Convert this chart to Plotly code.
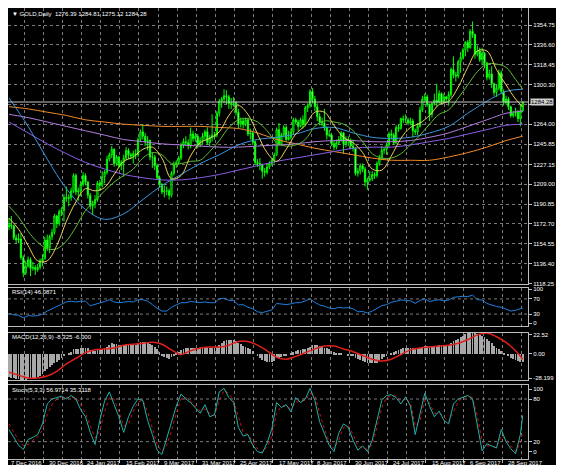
import plotly.graph_objects as go

# GOLD daily bars, 7 Dec 2016 .. 9 Oct 2017 (one entry per trading day)
opens = [1170, 1172, 1171, 1160, 1158, 1159, 1142, 1128, 1134, 1140, 1132, 1133, 1131, 1133, 1139, 1141, 1158,
         1151, 1161, 1165, 1180, 1173, 1184, 1185, 1197, 1196, 1197, 1203, 1217, 1202, 1203, 1209, 1217,
         1211, 1199, 1189, 1191, 1195, 1210, 1208, 1216, 1220, 1232, 1236, 1241, 1228, 1234, 1226, 1229,
         1233, 1240, 1236, 1235, 1237, 1236, 1250, 1257, 1253, 1248, 1249, 1234, 1234, 1226, 1215, 1209,
         1202, 1203, 1203, 1199, 1219, 1227, 1229, 1233, 1245, 1248, 1247, 1244, 1255, 1251, 1253, 1245,
         1249, 1253, 1257, 1247, 1252, 1254, 1254, 1274, 1285, 1287, 1290, 1289, 1283, 1283, 1284, 1275,
         1264, 1267, 1264, 1268, 1255, 1256, 1248, 1229, 1228, 1227, 1221, 1220, 1225, 1228, 1231, 1236,
         1259, 1246, 1254, 1261, 1250, 1252, 1257, 1268, 1266, 1262, 1268, 1264, 1279, 1281, 1294, 1287,
         1280, 1271, 1266, 1265, 1261, 1254, 1254, 1246, 1243, 1247, 1250, 1256, 1246, 1250, 1249, 1244,
         1242, 1219, 1221, 1226, 1223, 1211, 1213, 1214, 1218, 1217, 1228, 1233, 1240, 1241, 1245, 1255,
         1254, 1247, 1261, 1260, 1269, 1268, 1268, 1265, 1267, 1258, 1257, 1262, 1277, 1287, 1289, 1282,
         1273, 1283, 1286, 1284, 1292, 1284, 1289, 1287, 1291, 1314, 1309, 1308, 1321, 1325, 1332, 1339,
         1334, 1349, 1346, 1328, 1331, 1323, 1329, 1320, 1307, 1310, 1301, 1293, 1297, 1311, 1294, 1284,
         1287, 1280, 1272, 1274, 1275, 1269, 1276.39]
highs = [1178, 1180, 1172, 1163, 1164, 1164, 1144, 1139, 1143, 1142, 1138, 1135, 1136, 1141, 1145, 1161, 1163,
         1163, 1168, 1182, 1181, 1186, 1188, 1200, 1207, 1200, 1206, 1219, 1219, 1206, 1212, 1220, 1219,
         1212, 1201, 1194, 1199, 1212, 1213, 1221, 1222, 1235, 1238, 1244, 1242, 1236, 1235, 1231, 1236,
         1243, 1242, 1238, 1240, 1241, 1252, 1259, 1264, 1256, 1253, 1250, 1238, 1236, 1228, 1217, 1210,
         1208, 1207, 1205, 1221, 1230, 1231, 1235, 1247, 1251, 1253, 1250, 1261, 1258, 1256, 1255, 1252,
         1256, 1259, 1261, 1254, 1273, 1257, 1276, 1287, 1289, 1296, 1295, 1291, 1288, 1289, 1285, 1278,
         1270, 1270, 1270, 1270, 1260, 1258, 1249, 1232, 1233, 1228, 1224, 1227, 1230, 1233, 1238, 1261,
         1265, 1256, 1263, 1263, 1258, 1260, 1270, 1270, 1268, 1270, 1272, 1281, 1283, 1296, 1297, 1290,
         1283, 1274, 1270, 1278, 1262, 1259, 1256, 1249, 1250, 1253, 1258, 1257, 1253, 1253, 1251, 1250,
         1243, 1224, 1228, 1228, 1225, 1215, 1221, 1221, 1220, 1230, 1236, 1244, 1243, 1247, 1257, 1259,
         1256, 1263, 1264, 1270, 1272, 1273, 1270, 1270, 1269, 1260, 1265, 1280, 1290, 1292, 1291, 1283,
         1284, 1292, 1301, 1295, 1293, 1292, 1290, 1294, 1316, 1326, 1312, 1323, 1330, 1334, 1340, 1341,
         1351, 1358, 1347, 1336, 1334, 1334, 1330, 1321, 1314, 1317, 1302, 1300, 1314, 1313, 1296, 1290,
         1289, 1281, 1276, 1279, 1277, 1282, 1284.81]
lows = [1167, 1168, 1158, 1155, 1155, 1140, 1124, 1126, 1133, 1125, 1130, 1126, 1129, 1131, 1134, 1140, 1148,
        1146, 1158, 1163, 1169, 1171, 1180, 1175, 1193, 1189, 1194, 1201, 1199, 1194, 1198, 1207, 1208,
        1196, 1186, 1181, 1187, 1193, 1203, 1206, 1210, 1218, 1230, 1233, 1225, 1226, 1224, 1222, 1216,
        1231, 1232, 1232, 1228, 1232, 1234, 1248, 1250, 1244, 1240, 1231, 1224, 1222, 1213, 1206, 1200,
        1197, 1199, 1195, 1197, 1217, 1224, 1227, 1231, 1242, 1244, 1241, 1242, 1248, 1248, 1242, 1243,
        1246, 1249, 1245, 1244, 1248, 1250, 1252, 1271, 1279, 1283, 1282, 1278, 1278, 1280, 1272, 1260,
        1261, 1260, 1262, 1253, 1250, 1245, 1227, 1225, 1222, 1214, 1216, 1218, 1223, 1226, 1228, 1235,
        1244, 1244, 1252, 1248, 1249, 1250, 1255, 1264, 1258, 1261, 1260, 1262, 1275, 1279, 1283, 1276,
        1267, 1263, 1262, 1258, 1250, 1252, 1244, 1240, 1241, 1245, 1248, 1237, 1243, 1244, 1241, 1239,
        1217, 1216, 1218, 1220, 1207, 1204, 1211, 1212, 1214, 1215, 1226, 1231, 1237, 1236, 1243, 1250,
        1245, 1246, 1257, 1259, 1265, 1265, 1263, 1263, 1252, 1254, 1254, 1261, 1275, 1284, 1280, 1267,
        1270, 1281, 1280, 1283, 1282, 1283, 1284, 1281, 1289, 1306, 1303, 1306, 1311, 1323, 1326, 1330,
        1333, 1343, 1324, 1326, 1321, 1318, 1315, 1304, 1305, 1297, 1290, 1289, 1295, 1292, 1281, 1282,
        1277, 1270, 1270, 1271, 1266, 1262, 1275.12]
closes = [1172, 1171, 1160, 1158, 1159, 1142, 1128, 1134, 1140, 1132, 1133, 1131, 1133, 1139, 1141, 1158, 1151,
          1161, 1165, 1180, 1173, 1184, 1185, 1197, 1196, 1197, 1203, 1217, 1202, 1203, 1209, 1217, 1211,
          1199, 1189, 1191, 1195, 1210, 1208, 1216, 1220, 1232, 1236, 1241, 1228, 1234, 1226, 1229, 1233,
          1240, 1236, 1235, 1237, 1236, 1250, 1257, 1253, 1248, 1249, 1234, 1234, 1226, 1215, 1209, 1202,
          1203, 1203, 1199, 1219, 1227, 1229, 1233, 1245, 1248, 1247, 1244, 1255, 1251, 1253, 1245, 1249,
          1253, 1257, 1247, 1252, 1254, 1254, 1274, 1285, 1287, 1290, 1289, 1283, 1283, 1284, 1275, 1264,
          1267, 1264, 1268, 1255, 1256, 1248, 1229, 1228, 1227, 1221, 1220, 1225, 1228, 1231, 1236, 1259,
          1246, 1254, 1261, 1250, 1252, 1257, 1268, 1266, 1262, 1268, 1264, 1279, 1281, 1294, 1287, 1280,
          1271, 1266, 1265, 1261, 1254, 1254, 1246, 1243, 1247, 1250, 1256, 1246, 1250, 1249, 1244, 1242,
          1219, 1221, 1226, 1223, 1211, 1213, 1214, 1218, 1217, 1228, 1233, 1240, 1241, 1245, 1255, 1254,
          1247, 1261, 1260, 1269, 1268, 1268, 1265, 1267, 1258, 1257, 1262, 1277, 1287, 1289, 1282, 1273,
          1283, 1286, 1284, 1292, 1284, 1289, 1287, 1291, 1314, 1309, 1308, 1321, 1325, 1332, 1339, 1334,
          1349, 1346, 1328, 1331, 1323, 1329, 1320, 1307, 1310, 1301, 1293, 1297, 1311, 1294, 1284, 1287,
          1280, 1272, 1274, 1275, 1269, 1276, 1284.28]

date_labels = ["7 Dec 2016", "30 Dec 2016", "24 Jan 2017", "15 Feb 2017", "9 Mar 2017", "31 Mar 2017",
               "25 Apr 2017", "17 May 2017", "8 Jun 2017", "30 Jun 2017", "24 Jul 2017", "15 Aug 2017",
               "6 Sep 2017", "28 Sep 2017"]
price_ticks = [1118.25, 1136.40, 1154.55, 1172.70, 1190.85, 1209.00, 1227.15, 1245.85, 1264.00,
               1282.15, 1300.30, 1318.45, 1336.60, 1354.75]

# moving averages, read every 4 bars (fast) / every 8 bars (slow); last point is the last bar
ma_fast_at = list(range(0, 213, 4)) + [215]
ma_slow_at = list(range(0, 209, 8)) + [215]
ma_yellow = [1178, 1168, 1153, 1139, 1139, 1153, 1175, 1193, 1205, 1203, 1206, 1218, 1230, 1234, 1241,
             1243, 1233, 1214, 1217, 1235, 1247, 1251, 1257, 1272, 1281, 1273, 1255, 1238, 1230, 1241,
             1255, 1263, 1275, 1275, 1263, 1252, 1247, 1238, 1223, 1222, 1235, 1251, 1261, 1265, 1272,
             1282, 1285, 1298, 1316, 1331, 1331, 1314, 1300, 1287, 1280]
ma_green = [1189, 1179, 1166, 1156, 1150, 1150, 1157, 1170, 1185, 1194, 1203, 1211, 1217, 1223, 1233,
            1238, 1236, 1228, 1228, 1230, 1231, 1239, 1249, 1261, 1268, 1269, 1266, 1258, 1247, 1244,
            1245, 1250, 1262, 1267, 1266, 1264, 1258, 1248, 1237, 1233, 1233, 1237, 1245, 1254, 1264,
            1273, 1277, 1288, 1300, 1312, 1319, 1319, 1316, 1305, 1296]
ma_blue = [1288, 1262, 1232, 1205, 1186, 1177, 1182, 1195, 1208, 1218, 1228, 1236, 1245, 1250, 1252,
           1255, 1260, 1261, 1256, 1252, 1251, 1252, 1256, 1262, 1274, 1285, 1294, 1296]
ma_purple = [1273, 1270, 1266, 1262, 1258, 1254, 1250, 1248, 1246, 1245, 1244, 1243, 1243, 1244, 1245,
             1246, 1248, 1249, 1249, 1248, 1248, 1249, 1252, 1256, 1262, 1268, 1274, 1276]
ma_violet = [1266, 1256, 1246, 1237, 1229, 1223, 1218, 1215, 1213, 1213, 1215, 1218, 1222, 1226, 1230,
             1233, 1236, 1239, 1242, 1243, 1243, 1245, 1248, 1251, 1255, 1259, 1263, 1264]
ma_orange = [1280, 1278, 1275, 1272, 1268, 1266, 1264, 1263, 1262, 1262, 1262, 1261, 1260, 1256, 1250,
             1246, 1242, 1239, 1236, 1233, 1231, 1231, 1231, 1234, 1238, 1243, 1249, 1253]

# oscillators, read every 2 bars
osc_at = list(range(0, 215, 2)) + [215]
rsi = [32, 28, 27, 20, 26, 25, 26, 30, 38, 45, 50, 56, 62, 64, 62, 64, 64, 52, 55, 60,
       63, 68, 62, 60, 62, 63, 62, 68, 68, 64, 55, 45, 38, 38, 48, 54, 60, 60, 63, 62,
       60, 62, 60, 60, 70, 72, 66, 66, 54, 55, 48, 44, 36, 34, 38, 41, 58, 56, 55, 57,
       60, 60, 65, 70, 61, 54, 51, 46, 44, 48, 46, 47, 44, 36, 37, 33, 38, 45, 52, 55,
       61, 64, 67, 66, 65, 58, 66, 70, 63, 66, 68, 65, 67, 74, 75, 77, 76, 80, 68, 67,
       58, 53, 50, 48, 43, 38, 40, 43, 46.0871]
stoch_main = [37, 25, 15, 9, 23, 26, 30, 45, 73, 80, 82, 84, 80, 85, 80, 65, 55, 33, 16, 50,
              77, 90, 72, 55, 33, 55, 70, 80, 78, 50, 30, 8, 2, 25, 45, 70, 87, 80, 75, 68,
              60, 72, 55, 58, 90, 95, 82, 75, 40, 28, 30, 15, 6, 4, 18, 38, 75, 68, 72, 62,
              82, 75, 80, 95, 78, 48, 30, 15, 6, 32, 45, 40, 22, 8, 14, 6, 22, 52, 78, 85,
              86, 82, 73, 83, 70, 30, 60, 88, 70, 55, 63, 50, 45, 73, 80, 83, 85, 80, 44, 7,
              17, 14, 11, 37, 20, 10, 3, 30, 56.9714]
stoch_signal = [45, 33, 22, 14, 16, 22, 27, 36, 58, 72, 80, 83, 82, 82, 82, 72, 60, 42, 25, 35,
                62, 82, 80, 62, 42, 45, 63, 76, 78, 62, 38, 16, 6, 15, 35, 60, 80, 82, 77, 70,
                63, 66, 60, 57, 78, 92, 88, 78, 55, 33, 30, 20, 10, 5, 12, 28, 60, 70, 70, 66,
                75, 78, 78, 88, 85, 60, 38, 20, 10, 22, 40, 42, 30, 14, 12, 9, 16, 40, 68, 82,
                85, 84, 76, 80, 75, 42, 50, 78, 75, 60, 60, 55, 48, 62, 76, 82, 84, 82, 56, 20,
                14, 14, 12, 28, 24, 14, 6, 18, 35.3118]

# MACD main per bar, signal every 4 bars
macd_main = [-24, -25, -26, -27, -27, -28, -28.199, -28, -27, -27, -26, -25, -24, -23, -21, -18, -16,
             -14, -12, -9, -8, -6, -4, -2, 0, 1, 2, 5, 5, 5, 6, 7, 7,
             6, 4, 3, 3, 4, 4, 5, 6, 8, 10, 12, 11, 11, 10, 10, 10,
             10, 10, 10, 10, 10, 11, 13, 13, 13, 13, 11, 10, 8, 5, 2, -1,
             -3, -4, -5, -3, -1, 1, 2, 4, 5, 6, 6, 7, 7, 7, 7, 7,
             7, 7, 6, 6, 6, 6, 8, 10, 12, 14, 15, 15, 15, 15, 14, 12,
             11, 9, 8, 6, 5, 3, 0, -2, -4, -6, -7, -8, -8, -8, -7, -4,
             -4, -3, -1, -1, 0, 1, 2, 3, 4, 4, 5, 5, 7, 8, 10, 10,
             10, 9, 8, 7, 6, 5, 3, 2, 1, 1, 1, 0, 0, -1, -1, -2,
             -4, -5, -6, -7, -8, -10, -10, -10, -10, -9, -7, -5, -3, -2, 0, 1,
             2, 3, 4, 5, 6, 7, 7, 7, 6, 5, 5, 6, 8, 9, 9, 9,
             9, 9, 9, 10, 10, 10, 10, 10, 12, 14, 15, 16, 18, 19, 21, 22,
             22.52, 22.5, 22, 21, 20, 19, 18, 16, 14, 12, 9, 7, 5, 3, 1, 0,
             -2, -4, -5, -6, -7, -8, -8.325]
macd_signal = [-20, -23, -26, -26, -24, -19, -11, -5, 1, 4, 5, 6, 9, 10, 11, 12, 10, 4, -1, 3,
               6, 7, 7, 9, 13, 13, 9, 3, -4, -6, -3, 1, 5, 8, 8, 5, 2, -2, -6, -8,
               -6, -1, 4, 6, 7, 8, 9, 11, 15, 20, 22, 18, 12, 3, -6.0]

bars = list(range(len(closes)))

# the page has an 8px body margin, so the figure starts at (8, 8) of the window;
# positions below are given in window pixels and converted to paper fractions
W, H = 551, 457
PLOT_W, PLOT_H = 520, 451          # plot area spans window x 8..528, y 8..459


def py(ypx):
    return (459 - ypx) / PLOT_H


def pxx(xpx):
    return (xpx - 8) / PLOT_W


FG = "#FFFFFF"
GRID = "#7A7A7A"
BORDER = "#BDBDBD"
FONT = dict(family="Liberation Sans, Arial, sans-serif", size=6, color=FG)

fig = go.Figure()

fig.add_trace(go.Candlestick(
    x=bars, open=opens, high=highs, low=lows, close=closes,
    increasing=dict(line=dict(color="#00FF00", width=1), fillcolor="#000000"),
    decreasing=dict(line=dict(color="#00FF00", width=1), fillcolor="#FFFFFF"),
    whiskerwidth=0, hoverinfo="skip", showlegend=False, xaxis="x", yaxis="y"))

for xs, ys, col in [
    (ma_slow_at, ma_orange, "#F0892A"),
    (ma_slow_at, ma_violet, "#8A5CE6"),
    (ma_slow_at, ma_purple, "#B07CDB"),
    (ma_slow_at, ma_blue, "#3A95DD"),
    (ma_fast_at, ma_green, "#5DBB2E"),
    (ma_fast_at, ma_yellow, "#EBD35A"),
]:
    fig.add_trace(go.Scatter(x=xs, y=ys, mode="lines", line=dict(color=col, width=1, shape="spline"),
                             hoverinfo="skip", showlegend=False, xaxis="x", yaxis="y"))

fig.add_trace(go.Scatter(x=osc_at, y=rsi, mode="lines", line=dict(color="#1E7FE0", width=1),
                         hoverinfo="skip", showlegend=False, xaxis="x2", yaxis="y2"))

fig.add_trace(go.Bar(x=bars, y=macd_main, width=0.35, marker=dict(color="#A8A8A8", line=dict(width=0)),
                     hoverinfo="skip", showlegend=False, xaxis="x3", yaxis="y3"))
fig.add_trace(go.Scatter(x=ma_fast_at, y=macd_signal, mode="lines",
                         line=dict(color="#E0201A", width=1.5, shape="spline"),
                         hoverinfo="skip", showlegend=False, xaxis="x3", yaxis="y3"))

fig.add_trace(go.Scatter(x=osc_at, y=stoch_signal, mode="lines", line=dict(color="#D01010", width=1, dash="dot"),
                         hoverinfo="skip", showlegend=False, xaxis="x4", yaxis="y4"))
fig.add_trace(go.Scatter(x=osc_at, y=stoch_main, mode="lines", line=dict(color="#20B2AA", width=1),
                         hoverinfo="skip", showlegend=False, xaxis="x4", yaxis="y4"))

# the terminal draws its period separators a bar and a half before each date label
xr = [-0.42, 217.2]
SEP = 1.6
major = [16 * k - SEP for k in range(len(date_labels))]
minor = [16 * k + 8 - SEP for k in range(len(date_labels))]
xbase = dict(range=xr, showticklabels=False, tickvals=major, showgrid=True, gridcolor=GRID, griddash="dot",
             gridwidth=1, zeroline=False, showline=True, mirror=True, linecolor=BORDER, linewidth=1,
             fixedrange=True, automargin=False, rangeslider=dict(visible=False),
             minor=dict(tickvals=minor, showgrid=True, gridcolor=GRID, griddash="dot", gridwidth=1))
ybase = dict(side="right", showline=True, mirror=True, linecolor=BORDER, linewidth=1, zeroline=False,
             ticks="outside", ticklen=3, tickcolor=BORDER, tickfont=FONT, fixedrange=True, automargin=False)

price_text = [f"{v:.2f}" for v in price_ticks]
price_text[price_ticks.index(1282.15)] = ""

fig.update_layout(
    width=W, height=H, margin=dict(l=0, r=W - PLOT_W, t=0, b=H - PLOT_H, pad=0),
    paper_bgcolor="#FFFFFF", plot_bgcolor="#000000",
    font=FONT, showlegend=False, bargap=0,
    xaxis=dict(xbase, anchor="y"),
    xaxis2=dict(xbase, anchor="y2", matches="x"),
    xaxis3=dict(xbase, anchor="y3", matches="x"),
    xaxis4=dict(xbase, anchor="y4", matches="x", ticks="outside", ticklen=3, tickcolor=BORDER),
    yaxis=dict(ybase, domain=[py(283.5), 1], range=[1118.25, 1370.3], tickvals=price_ticks,
               ticktext=price_text, showgrid=True, gridcolor=GRID, griddash="dot", anchor="x"),
    # MT4 draws the end labels of each indicator window a little inside the window
    yaxis2=dict(ybase, domain=[py(325.5), py(287.5)], range=[0, 100], tickvals=[6, 30, 70, 96],
                ticktext=["0", "30", "70", "100"], showgrid=False, anchor="x2"),
    yaxis3=dict(ybase, domain=[py(380), py(332.5)], range=[-28.199, 22.52], tickvals=[-26.1, 0, 19.9],
                ticktext=["-28.199", "0.00", "22.52"], showgrid=False, anchor="x3"),
    yaxis4=dict(ybase, domain=[0, py(384.5)], range=[-4.4, 100.4], tickvals=[6, 20, 80, 94],
                ticktext=["0", "20", "80", "100"], showgrid=False, anchor="x4"),
)

# black terminal background around the panels
fig.add_shape(type="rect", xref="paper", yref="paper", x0=pxx(0), x1=pxx(556), y0=py(470), y1=py(0),
              fillcolor="#000000", line=dict(width=0), layer="below")

# indicator levels
for yref, lvl in [("y2", 30), ("y2", 70), ("y4", 20), ("y4", 80)]:
    fig.add_shape(type="line", xref="paper", x0=0, x1=1, yref=yref, y0=lvl, y1=lvl,
                  line=dict(color=GRID, width=1, dash="dot"))

# bid line
fig.add_shape(type="line", xref="paper", x0=0, x1=1, yref="y", y0=closes[-1], y1=closes[-1],
              line=dict(color="#C8C8C8", width=1))
fig.add_annotation(xref="paper", x=1, xanchor="left", xshift=2, yref="y", y=closes[-1],
                   text=f"{closes[-1]:.2f}", showarrow=False, bgcolor="#D0D0D0",
                   font=dict(family=FONT["family"], size=6, color="#000000"), borderpad=0)

# panel captions
captions = [
    (py(14), f"▼ GOLD,Daily  {opens[-1]:.2f} {highs[-1]:.2f} {lows[-1]:.2f} {closes[-1]:.2f}"),
    (py(292), f"RSI(14) {rsi[-1]:.4f}"),
    (py(337), f"MACD(12,26,9) {macd_main[-1]:.3f} {macd_signal[-1]:.3f}"),
    (py(390), f"Stoch(5,3,3) {stoch_main[-1]:.4f} {stoch_signal[-1]:.4f}"),
]
for yy, txt in captions:
    fig.add_annotation(xref="paper", x=pxx(10), xanchor="left", yref="paper", y=yy, yanchor="middle",
                       text=txt, showarrow=False, font=FONT)

# date axis labels, just right of their separators
for k, lab in enumerate(date_labels):
    fig.add_annotation(xref="x4", x=16 * k, xanchor="left", yref="paper", y=py(462.5), yanchor="middle",
                       text=lab, showarrow=False, font=FONT)

fig.write_html("out.html")
